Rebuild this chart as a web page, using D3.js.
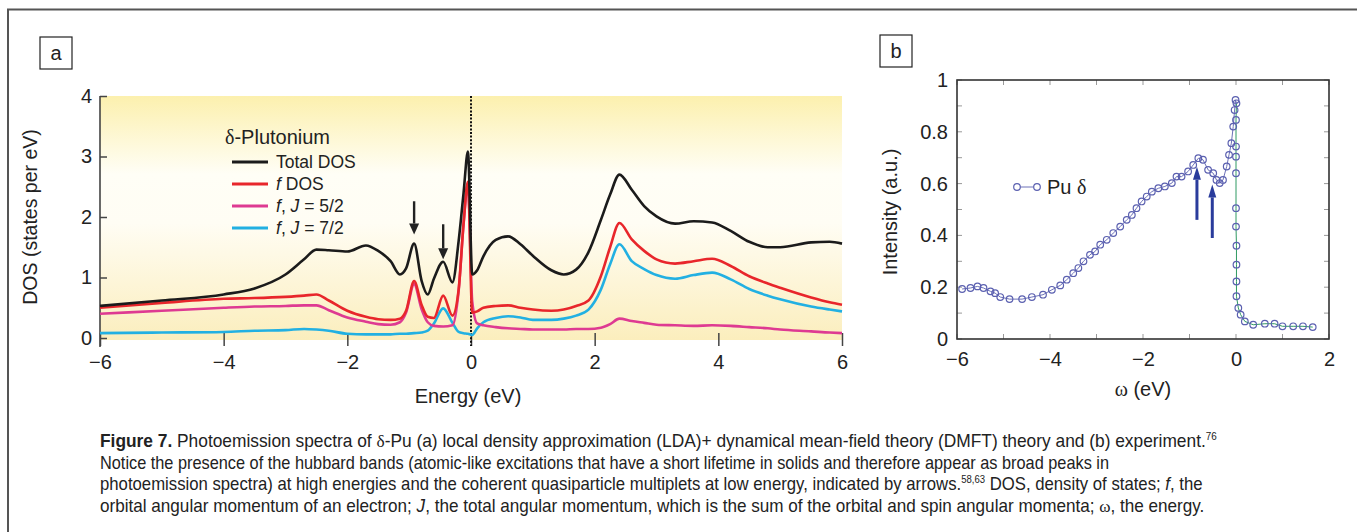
<!DOCTYPE html>
<html>
<head>
<meta charset="utf-8">
<script src="https://cdn.jsdelivr.net/npm/d3@7"></script>
<style>
  html, body { margin: 0; padding: 0; background: #fff; }
  svg { display: block; font-family: Arial, "Liberation Sans", Helvetica, sans-serif; }
</style>
</head>
<body>
<svg id="fig" width="1357" height="532"></svg>
<script>
// ---- panel a: LDA+DMFT density of states ----
const energy   = [-6, -5, -4, -3.5, -3, -2.7, -2.5, -2.3, -2.0, -1.7, -1.5, -1.3, -1.15, -1.05, -0.92, -0.8, -0.7, -0.6, -0.45, -0.3, -0.2, -0.12, -0.05, 0.02, 0.1, 0.2, 0.4, 0.6, 0.8, 1.0, 1.3, 1.5, 1.7, 1.9, 2.1, 2.25, 2.4, 2.6, 2.8, 3.0, 3.3, 3.6, 3.9, 4.2, 4.5, 4.8, 5.0, 5.5, 5.8, 6.0];
const totalDos = [0.53, 0.62, 0.72, 0.82, 1.05, 1.30, 1.46, 1.45, 1.43, 1.53, 1.44, 1.27, 1.05, 1.15, 1.56, 0.95, 0.72, 0.98, 1.26, 0.92, 1.60, 2.40, 3.08, 1.05, 1.12, 1.35, 1.62, 1.68, 1.55, 1.36, 1.12, 1.05, 1.13, 1.42, 1.95, 2.37, 2.70, 2.45, 2.18, 2.01, 1.89, 1.93, 1.91, 1.77, 1.59, 1.50, 1.50, 1.58, 1.59, 1.56];
const fDos     = [0.50, 0.58, 0.65, 0.66, 0.68, 0.70, 0.72, 0.62, 0.45, 0.35, 0.31, 0.30, 0.32, 0.45, 0.94, 0.55, 0.35, 0.33, 0.70, 0.37, 0.80, 1.90, 2.58, 0.42, 0.44, 0.50, 0.53, 0.54, 0.50, 0.47, 0.45, 0.47, 0.53, 0.62, 1.02, 1.50, 1.90, 1.63, 1.44, 1.30, 1.23, 1.27, 1.31, 1.19, 1.02, 0.90, 0.83, 0.67, 0.59, 0.55];
const fJ52     = [0.40, 0.45, 0.50, 0.52, 0.53, 0.54, 0.54, 0.46, 0.34, 0.27, 0.23, 0.22, 0.26, 0.42, 0.89, 0.48, 0.26, 0.20, 0.19, 0.21, 0.78, 1.88, 2.55, 0.60, 0.24, 0.21, 0.18, 0.16, 0.15, 0.14, 0.14, 0.14, 0.15, 0.15, 0.17, 0.23, 0.32, 0.28, 0.25, 0.22, 0.21, 0.20, 0.21, 0.20, 0.18, 0.16, 0.14, 0.11, 0.09, 0.08];
const fJ72     = [0.08, 0.09, 0.10, 0.12, 0.13, 0.15, 0.14, 0.12, 0.07, 0.06, 0.06, 0.06, 0.07, 0.07, 0.08, 0.09, 0.12, 0.24, 0.49, 0.25, 0.10, 0.08, 0.07, 0.05, 0.16, 0.26, 0.33, 0.36, 0.34, 0.30, 0.30, 0.32, 0.37, 0.47, 0.80, 1.22, 1.55, 1.27, 1.14, 1.04, 0.98, 1.04, 1.08, 0.97, 0.81, 0.70, 0.64, 0.52, 0.47, 0.44];

const seriesNamesA = ["Total DOS", "f DOS", "f, J = 5/2", "f, J = 7/2"];
const seriesColorsA = ["#1b1b1b", "#e8262b", "#de3a92", "#22b0e2"];
const ticksAx = [-6, -4, -2, 0, 2, 4, 6];
const ticksAy = [0, 1, 2, 3, 4];
// quasiparticle arrows: x position, tail value, tip value
const arrowAx = [-0.92, -0.45];
const arrowAtail = [2.26, 1.88];
const arrowAtip = [1.71, 1.30];

// ---- panel b: photoemission experiment ----
const omega = [-5.89, -5.71, -5.56, -5.43, -5.28, -5.18, -5.07, -4.87, -4.60, -4.39, -4.15, -3.96, -3.78, -3.64, -3.50, -3.39, -3.28, -3.14, -3.03, -2.92, -2.78, -2.64, -2.49, -2.35, -2.24, -2.14, -2.03, -1.92, -1.81, -1.67, -1.53, -1.38, -1.28, -1.17, -1.03, -0.92, -0.81, -0.71, -0.60, -0.49, -0.42, -0.35, -0.28, -0.20, -0.15, -0.10, -0.06, -0.03, -0.01, 0.01, 0.00, 0.00, 0.00, 0.00, 0.00, 0.00, 0.01, 0.01, 0.01, 0.01, 0.05, 0.10, 0.19, 0.37, 0.62, 0.83, 1.00, 1.23, 1.44, 1.65];
const intensity = [0.193, 0.197, 0.203, 0.197, 0.184, 0.177, 0.162, 0.154, 0.154, 0.162, 0.171, 0.190, 0.207, 0.229, 0.254, 0.274, 0.300, 0.325, 0.338, 0.364, 0.383, 0.409, 0.434, 0.460, 0.479, 0.505, 0.531, 0.550, 0.569, 0.582, 0.589, 0.602, 0.627, 0.627, 0.647, 0.672, 0.698, 0.692, 0.653, 0.640, 0.614, 0.602, 0.614, 0.666, 0.711, 0.756, 0.820, 0.884, 0.923, 0.910, 0.846, 0.743, 0.704, 0.640, 0.505, 0.434, 0.360, 0.287, 0.222, 0.165, 0.120, 0.094, 0.068, 0.055, 0.059, 0.059, 0.049, 0.049, 0.049, 0.046];
const ticksBx = [-6, -4, -2, 0, 2];
const ticksBy = [0, 0.2, 0.4, 0.6, 0.8, 1];
const arrowBx = [-0.84, -0.51];
const arrowBtail = [0.46, 0.39];
const arrowBtip = [0.665, 0.597];

const svg = d3.select("#fig");

// outer frame (only top and left edges are visible in the crop)
svg.append("path")
  .attr("d", "M8,532V9.5H1357")
  .attr("fill", "none")
  .attr("stroke", "#555")
  .attr("stroke-width", 2);

// arrow helper (vertical arrows only)
function arrow(g, x, yTail, yTip, color, shaftW, headW, headL) {
  const dir = yTip > yTail ? 1 : -1;
  const yBase = yTip - dir * headL;
  g.append("line")
    .attr("x1", x).attr("x2", x)
    .attr("y1", yTail).attr("y2", yBase)
    .attr("stroke", color).attr("stroke-width", shaftW);
  g.append("path")
    .attr("d", `M${x - headW / 2},${yBase}L${x + headW / 2},${yBase}L${x},${yTip}Z`)
    .attr("fill", color);
}

function panelLabel(x, y, txt) {
  svg.append("rect")
    .attr("x", x).attr("y", y).attr("width", 32).attr("height", 32)
    .attr("fill", "#fff").attr("stroke", "#222").attr("stroke-width", 1.2);
  svg.append("text")
    .attr("x", x + 16).attr("y", y + 23)
    .attr("text-anchor", "middle")
    .attr("font-size", 20)
    .attr("fill", "#222")
    .text(txt);
}

// ================= panel a =================
const xA = d3.scaleLinear().domain([-6, 6]).range([100, 842]);
const yA = d3.scaleLinear().domain([0, 4]).range([338, 96]);

const defs = svg.append("defs");
const grad = defs.append("linearGradient")
  .attr("id", "bgA").attr("x1", 0).attr("y1", 0).attr("x2", 0).attr("y2", 1);
grad.append("stop").attr("offset", "0%").attr("stop-color", "#fcf0ae");
grad.append("stop").attr("offset", "32%").attr("stop-color", "#fffef6");
grad.append("stop").attr("offset", "52%").attr("stop-color", "#fffdf4");
grad.append("stop").attr("offset", "100%").attr("stop-color", "#fbeebd");

svg.append("rect")
  .attr("x", xA(-6)).attr("y", yA(4))
  .attr("width", xA(6) - xA(-6)).attr("height", yA(0) + 2 - yA(4))
  .attr("fill", "url(#bgA)");

panelLabel(40, 37, "a");

// y axis
const gyA = svg.append("g")
  .attr("transform", `translate(${xA(-6)},0)`)
  .call(d3.axisLeft(yA).tickValues(ticksAy).tickSize(-7).tickPadding(8).tickFormat(d3.format("d")));
gyA.select(".domain").remove();
gyA.selectAll("line").attr("stroke", "#444").attr("stroke-width", 1.5);
gyA.selectAll("text").attr("font-size", 20).attr("fill", "#222").attr("font-family", "Arial, 'Liberation Sans', sans-serif");
svg.append("line")
  .attr("x1", xA(-6)).attr("x2", xA(-6))
  .attr("y1", yA(4)).attr("y2", yA(0) + 9)
  .attr("stroke", "#444").attr("stroke-width", 1.6);

// x axis (ticks straddle the bottom edge)
const gxA = svg.append("g")
  .attr("transform", `translate(0,${yA(0) - 5})`)
  .call(d3.axisBottom(xA).tickValues(ticksAx).tickSize(13).tickPadding(9)
    .tickFormat(d => d < 0 ? "\u2212" + Math.abs(d) : d));
gxA.select(".domain").remove();
gxA.selectAll("line").attr("stroke", "#444").attr("stroke-width", 1.5);
gxA.selectAll("text").attr("font-size", 20).attr("fill", "#222").attr("font-family", "Arial, 'Liberation Sans', sans-serif");

// Fermi level
svg.append("line")
  .attr("x1", xA(0)).attr("x2", xA(0))
  .attr("y1", yA(4)).attr("y2", yA(0) + 8)
  .attr("stroke", "#111").attr("stroke-width", 2)
  .attr("stroke-dasharray", "2,1.6");

// curves: draw from bottom to top layer as in the figure
const lineA = d3.line().x(d => xA(d[0])).y(d => yA(d[1])).curve(d3.curveMonotoneX);
const seriesA = [totalDos, fDos, fJ52, fJ72];
[3, 2, 1, 0].forEach(i => {
  svg.append("path")
    .datum(energy.map((e, k) => [e, seriesA[i][k]]))
    .attr("fill", "none")
    .attr("stroke", seriesColorsA[i])
    .attr("stroke-width", 2.6)
    .attr("stroke-linejoin", "round")
    .attr("d", lineA);
});

// arrows
arrowAx.forEach((x, i) => {
  arrow(svg, xA(x), yA(arrowAtail[i]), yA(arrowAtip[i]), "#222", 2.4, 10, 11);
});

// legend
const leg = svg.append("g");
leg.append("text")
  .attr("x", 225).attr("y", 144)
  .attr("font-size", 20).attr("fill", "#222")
  .call(t => {
    t.append("tspan").attr("font-family", "'Liberation Serif', 'DejaVu Serif', serif").text("\u03b4");
    t.append("tspan").text("-Plutonium");
  });
seriesNamesA.forEach((name, i) => {
  const yc = 162 + i * 22;
  leg.append("line")
    .attr("x1", 232).attr("x2", 268).attr("y1", yc).attr("y2", yc)
    .attr("stroke", seriesColorsA[i]).attr("stroke-width", 3);
  const t = leg.append("text")
    .attr("x", 276).attr("y", yc + 6)
    .attr("font-size", 17.5).attr("fill", "#222");
  // italicise the f and J symbols
  name.split(/(f|J)/).filter(s => s.length).forEach(part => {
    const sp = t.append("tspan").text(part);
    if (part === "f" || part === "J") sp.attr("font-style", "italic");
  });
});

// axis titles
svg.append("text")
  .attr("transform", `translate(30,217) rotate(-90)`)
  .attr("text-anchor", "middle").attr("dominant-baseline", "central")
  .attr("font-size", 19.5).attr("fill", "#222")
  .text("DOS (states per eV)");
svg.append("text")
  .attr("x", 468).attr("y", 403)
  .attr("text-anchor", "middle")
  .attr("font-size", 20).attr("fill", "#222")
  .text("Energy (eV)");

// ================= panel b =================
const xB = d3.scaleLinear().domain([-6, 2]).range([957, 1329]);
const yB = d3.scaleLinear().domain([0, 1]).range([339, 80]);

panelLabel(880, 35, "b");

// minor ticks inside the frame on all four sides
const tickG = svg.append("g").attr("stroke", "#999").attr("stroke-width", 1);
d3.range(-6, 2.01, 1).forEach(v => {
  tickG.append("line").attr("x1", xB(v)).attr("x2", xB(v)).attr("y1", yB(0)).attr("y2", yB(0) - 5);
  tickG.append("line").attr("x1", xB(v)).attr("x2", xB(v)).attr("y1", yB(1)).attr("y2", yB(1) + 5);
});
d3.range(0, 1.001, 0.1).forEach(v => {
  tickG.append("line").attr("x1", xB(-6)).attr("x2", xB(-6) + 5).attr("y1", yB(v)).attr("y2", yB(v));
  tickG.append("line").attr("x1", xB(2)).attr("x2", xB(2) - 5).attr("y1", yB(v)).attr("y2", yB(v));
});

const gxB = svg.append("g")
  .attr("transform", `translate(0,${yB(0)})`)
  .call(d3.axisBottom(xB).tickValues(ticksBx).tickSize(0).tickPadding(13)
    .tickFormat(d => d < 0 ? "\u2212" + Math.abs(d) : d));
gxB.select(".domain").remove();
gxB.selectAll("text").attr("font-size", 20).attr("fill", "#222").attr("font-family", "Arial, 'Liberation Sans', sans-serif");

const gyB = svg.append("g")
  .attr("transform", `translate(${xB(-6)},0)`)
  .call(d3.axisLeft(yB).tickValues(ticksBy).tickSize(0).tickPadding(9)
    .tickFormat(d => d === 0 || d === 1 ? d : d3.format(".1f")(d)));
gyB.select(".domain").remove();
gyB.selectAll("text").attr("font-size", 20).attr("fill", "#222").attr("font-family", "Arial, 'Liberation Sans', sans-serif");

svg.append("rect")
  .attr("x", xB(-6)).attr("y", yB(1))
  .attr("width", xB(2) - xB(-6)).attr("height", yB(0) - yB(1))
  .attr("fill", "none").attr("stroke", "#333").attr("stroke-width", 1.6);

// data: connecting line, green segment through the Fermi edge, open circles
const pts = omega.map((w, i) => [w, intensity[i]]);
const lineB = d3.line().x(d => xB(d[0])).y(d => yB(d[1]));
svg.append("path").datum(pts.slice(0, 50))
  .attr("fill", "none").attr("stroke", "#6c71b8").attr("stroke-width", 1)
  .attr("d", lineB);
svg.append("path").datum(pts.slice(49))
  .attr("fill", "none").attr("stroke", "#2f9a62").attr("stroke-width", 1)
  .attr("d", lineB);
svg.append("g").selectAll("circle")
  .data(pts)
  .join("circle")
  .attr("cx", d => xB(d[0]))
  .attr("cy", d => yB(d[1]))
  .attr("r", 3.3)
  .attr("fill", "none")
  .attr("stroke", "#5b60b0")
  .attr("stroke-width", 1.2);

arrowBx.forEach((x, i) => {
  arrow(svg, xB(x), yB(arrowBtail[i]), yB(arrowBtip[i]), "#2a3c9c", 3, 8, 13);
});

// legend
svg.append("line").attr("x1", 1017).attr("x2", 1037).attr("y1", 187).attr("y2", 187)
  .attr("stroke", "#6c71b8").attr("stroke-width", 1);
[1017, 1037].forEach(cx => {
  svg.append("circle").attr("cx", cx).attr("cy", 187).attr("r", 3.3)
    .attr("fill", "#fff").attr("stroke", "#5b60b0").attr("stroke-width", 1.2);
});
svg.append("text")
  .attr("x", 1047).attr("y", 194)
  .attr("font-size", 20).attr("fill", "#222")
  .call(t => {
    t.append("tspan").text("Pu ");
    t.append("tspan").attr("font-family", "'Liberation Serif', 'DejaVu Serif', serif").text("\u03b4");
  });

svg.append("text")
  .attr("transform", `translate(890,212) rotate(-90)`)
  .attr("text-anchor", "middle").attr("dominant-baseline", "central")
  .attr("font-size", 20).attr("fill", "#222")
  .text("Intensity (a.u.)");
svg.append("text")
  .attr("x", 1143).attr("y", 396)
  .attr("text-anchor", "middle")
  .attr("font-size", 20).attr("fill", "#222")
  .call(t => {
    t.append("tspan").attr("font-family", "'Liberation Serif', 'DejaVu Serif', serif").text("\u03c9");
    t.append("tspan").text(" (eV)");
  });

// ================= caption =================
const serif = "'Liberation Serif', 'DejaVu Serif', serif";
const captionLines = [
  [["Figure 7.", "b"], [" Photoemission spectra of ", ""], ["\u03b4", "s"], ["-Pu (a) local density approximation (LDA)+ dynamical mean-field theory (DMFT) theory and (b) experiment.", ""], ["76", "sup"]],
  [["Notice the presence of the hubbard bands (atomic-like excitations that have a short lifetime in solids and therefore appear as broad peaks in", ""]],
  [["photoemission spectra) at high energies and the coherent quasiparticle multiplets at low energy, indicated by arrows.", ""], ["58,63", "sup"], [" DOS, density of states; ", ""], ["f", "i"], [", the", ""]],
  [["orbital angular momentum of an electron; ", ""], ["J", "i"], [", the total angular momentum, which is the sum of the orbital and spin angular momenta; ", ""], ["\u03c9", "s"], [", the energy.", ""]]
];
// line widths measured on the reference (condensed face)
const captionWidths = [1118, 1010, 1103, 1105];
const capG = svg.append("g").attr("font-size", 17.5).attr("fill", "#222")
  .attr("font-family", "'Liberation Sans Narrow', 'Arial Narrow', Arial, sans-serif");
captionLines.forEach((parts, li) => {
  const t = capG.append("text").attr("x", 0).attr("y", 0);
  parts.forEach(([txt, kind]) => {
    const sp = t.append("tspan").text(txt);
    if (kind === "b") sp.attr("font-weight", "bold");
    if (kind === "i") sp.attr("font-style", "italic");
    if (kind === "s") sp.attr("font-family", serif);
    if (kind === "sup") sp.attr("font-size", 10).attr("dy", -7);
    else if (sp.node().previousSibling && sp.node().previousSibling.getAttribute("dy") === "-7") sp.attr("dy", 7);
  });
  // squeeze each line horizontally to the condensed width of the original
  const w = t.node().getComputedTextLength();
  t.attr("transform", `translate(100,${447 + li * 21.5}) scale(${captionWidths[li] / w},1)`);
});
</script>
</body>
</html>
